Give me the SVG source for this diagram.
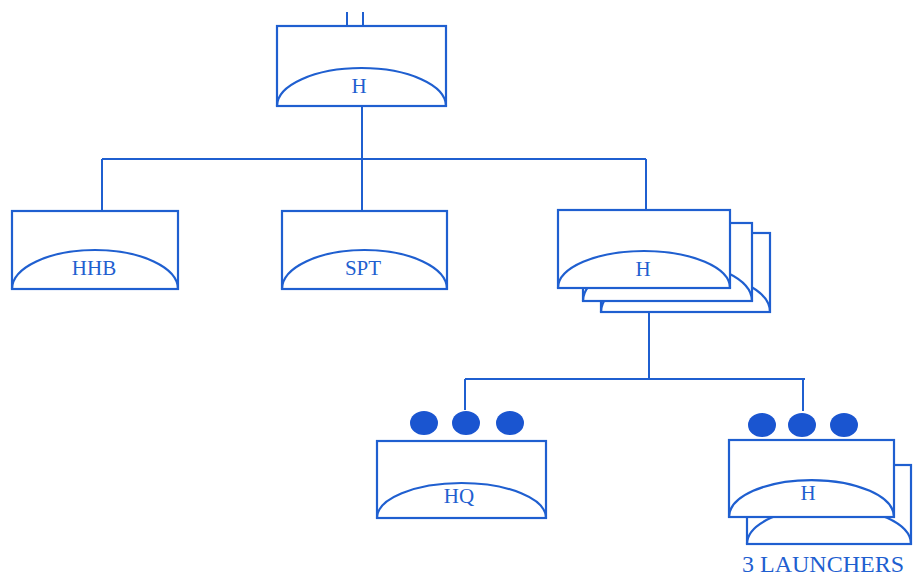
<svg xmlns="http://www.w3.org/2000/svg" width="913" height="578" viewBox="0 0 913 578">
<style>
.b{fill:#fff;stroke:#1f5fd0;stroke-width:2.2}
.a{fill:none;stroke:#1f5fd0;stroke-width:2.2}
.c{fill:none;stroke:#1f5fd0;stroke-width:2}
.d{fill:#1a55d0}
.t{font-family:"Liberation Serif",serif;font-size:21px;fill:#1f5fd0;text-anchor:middle}
</style>
<rect width="913" height="578" fill="#fff"/>
<g id="connectors">
<path class="c" d="M347 12V26M363 12V26M362 106V159M102 159H646M102 159V211M362 159V211M646 159V210M649 312V379M465 379H805M465 379V410M803 379V411"/>
</g>
<g id="node-top">
<rect class="b" x="277" y="26" width="169" height="80"/>
<path class="a" d="M277 106A84.5 38 0 0 1 446 106"/>
<text class="t" x="359" y="93">H</text>
</g>
<g id="node-hhb">
<rect class="b" x="12" y="211" width="166" height="78"/>
<path class="a" d="M12 289A83 39 0 0 1 178 289"/>
<text class="t" x="94" y="275">HHB</text>
</g>
<g id="node-spt">
<rect class="b" x="282" y="211" width="165" height="78"/>
<path class="a" d="M282 289A82.5 39 0 0 1 447 289"/>
<text class="t" x="363" y="275">SPT</text>
</g>
<g id="node-h-stack">
<rect class="b" x="601" y="233" width="169" height="79"/>
<path class="a" d="M601 312A84.5 40 0 0 1 770 312"/>
<rect class="b" x="583" y="223" width="169" height="78"/>
<path class="a" d="M583 301A84.5 40 0 0 1 752 301"/>
<rect class="b" x="558" y="210" width="172" height="78"/>
<path class="a" d="M558 288A86 37 0 0 1 730 288"/>
<text class="t" x="643" y="276">H</text>
</g>
<g id="node-hq">
<ellipse class="d" cx="424" cy="423" rx="14" ry="12"/>
<ellipse class="d" cx="466" cy="423" rx="14" ry="12"/>
<ellipse class="d" cx="510" cy="423" rx="14" ry="12"/>
<rect class="b" x="377" y="441" width="169" height="77"/>
<path class="a" d="M377 518A84.5 35 0 0 1 546 518"/>
<text class="t" x="459" y="503">HQ</text>
</g>
<g id="node-launchers">
<ellipse class="d" cx="762" cy="425" rx="14" ry="12"/>
<ellipse class="d" cx="802" cy="425" rx="14" ry="12"/>
<ellipse class="d" cx="844" cy="425" rx="14" ry="12"/>
<rect class="b" x="747" y="465" width="164" height="79"/>
<path class="a" d="M747 544A82 37 0 0 1 911 544"/>
<rect class="b" x="729" y="440" width="165" height="77"/>
<path class="a" d="M729 517A82.5 37 0 0 1 894 517"/>
<text class="t" x="808" y="500">H</text>
<text class="t" x="823" y="572" style="font-size:24px">3 LAUNCHERS</text>
</g>
</svg>
